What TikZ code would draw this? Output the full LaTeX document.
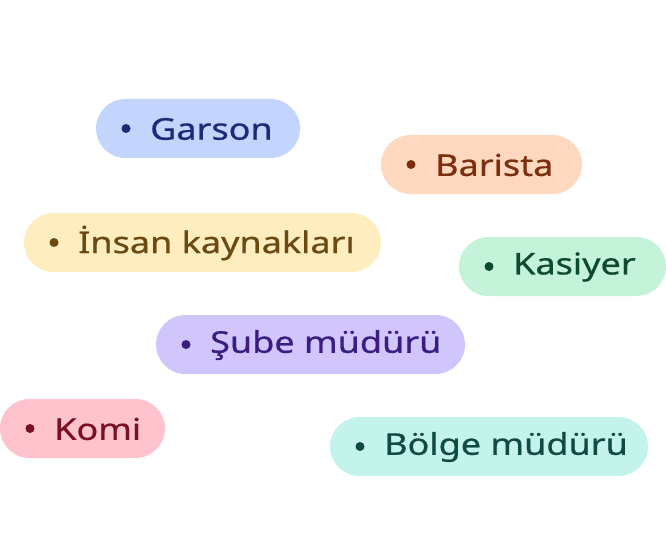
\documentclass[tikz,border=0pt]{standalone}
\usepackage{fontspec}
\setmainfont{Noto Sans}[FakeStretch=1.2,FakeBold=0.6]
\begin{document}
\begin{tikzpicture}[x=1pt,y=-1pt,
  pill/.style={rounded corners=29.5pt},
  lab/.style={anchor=west,inner sep=0pt,font=\fontsize{30}{34}\selectfont}]
\useasboundingbox (0,0) rectangle (666,540);
\newcommand\mypill[7]{%
  \definecolor{f#1}{HTML}{#6}\definecolor{t#1}{HTML}{#7}%
  \fill[pill,f#1] (#2,#3) rectangle (#4,#3+59);
  \fill[t#1] (#2+30,#3+29.5) circle (4.5);
  \node[lab,text=t#1] (#1) at (#2+54,#3+30) {#5};}
\mypill{g}{96}{99}{300}{Garson}{C3D4FD}{1E2A78}
\mypill{b}{381}{135}{582}{Barista}{FED9C0}{7A2E0E}
\mypill{i}{24}{213}{381}{İnsan kaynakları}{FDEDBF}{6B4A12}
\mypill{k}{459}{237}{666}{Kasiyer}{C4F3D9}{0D4A2E}
\mypill{s}{156}{315}{465}{Şube müdürü}{D0C6FC}{3B1C80}
\mypill{m}{0}{399}{165}{Komi}{FEC3CD}{7A1026}
\mypill{o}{330}{417}{648}{Bölge müdürü}{C4F3EC}{0F4A44}
\end{tikzpicture}
\end{document}
